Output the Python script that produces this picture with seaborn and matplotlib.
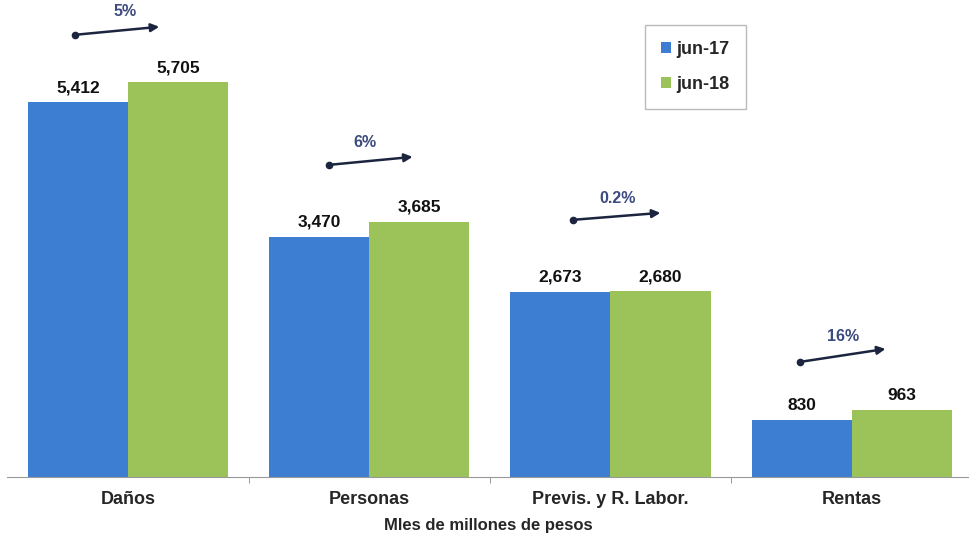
import pandas as pd
import seaborn as sns
import matplotlib.pyplot as plt

# datos (miles de millones de pesos)
categorias = ["Daños", "Personas", "Previs. y R. Labor.", "Rentas"]
jun17 = [5412, 3470, 2673, 830]
jun18 = [5705, 3685, 2680, 963]
crecimiento = ["5%", "6%", "0.2%", "16%"]
series = ["jun-17", "jun-18"]

df = pd.DataFrame({
    "categoria": categorias * 2,
    "valor": jun17 + jun18,
    "serie": [series[0]] * 4 + [series[1]] * 4,
})

sns.set_style("white")
plt.rcParams['font.family'] = ['Liberation Sans', 'DejaVu Sans']

fig = plt.figure(figsize=(9.7, 5.4), dpi=100)
ax = fig.add_axes([0.0075, 0.1167, 0.9925, 0.8833])

colores = {"jun-17": "#3d7ed3", "jun-18": "#9cc25a"}
sns.barplot(data=df, x="categoria", y="valor", hue="serie", palette=colores,
            width=0.83, saturation=1, ax=ax, edgecolor="none")

# etiquetas de valor
for cont in ax.containers:
    ax.bar_label(cont, labels=[f"{v:,.0f}" for v in cont.datavalues],
                 padding=5, fontsize=12.5, fontweight="bold", color="#111111")

# flechas de crecimiento (posiciones de la anotacion)
flecha_x = [(-0.22, 0.13), (-0.165, 0.18), (-0.157, 0.207), (-0.215, 0.14)]
flecha_y = [(6387, 6503), (4509, 4624), (3714, 3815), (1662, 1850)]
texto_x = [-0.013, -0.017, 0.03, -0.037]
texto_y = [6720, 4827, 4017, 2023]
for i, lbl in enumerate(crecimiento):
    (dl, dr), (y0, y1) = flecha_x[i], flecha_y[i]
    ax.annotate("", xy=(i + dr, y1), xytext=(i + dl, y0),
                arrowprops=dict(arrowstyle="-|>", color="#1c2540", lw=1.8,
                                mutation_scale=12, shrinkA=0, shrinkB=0))
    ax.plot(i + dl, y0, marker="o", ms=4.5, color="#1c2540")
    ax.text(i + texto_x[i], texto_y[i], lbl,
            ha="center", va="center", fontsize=11.5, fontweight="bold",
            color="#3c4a80")

ax.set_ylim(0, 6890)
ax.set_xlim(-0.5, 3.49)
ax.set_yticks([])
ax.set_ylabel("")
ax.set_xlabel("Mles de millones de pesos", fontsize=12, fontweight="bold",
              labelpad=7)
for t in ax.get_xticklabels():
    t.set_fontweight("bold")
    t.set_fontsize(13)
ax.tick_params(axis="x", which="major", length=0, pad=10)
ax.set_xticks([0.5, 1.5, 2.5], minor=True)
ax.tick_params(axis="x", which="minor", length=4, color="#888888", bottom=True)

sns.despine(ax=ax, left=True)
ax.spines["bottom"].set_color("#999999")

leg = ax.legend(loc="upper left", bbox_to_anchor=(0.6625, 0.948),
                prop={"weight": "bold", "size": 13}, frameon=True,
                fancybox=False, edgecolor="#aaaaaa", handlelength=0.55,
                handleheight=0.55, handletextpad=0.3, labelspacing=1.0,
                borderpad=0.9, borderaxespad=0)
leg.get_frame().set_linewidth(1.0)

fig.savefig("out.png", dpi=100)
